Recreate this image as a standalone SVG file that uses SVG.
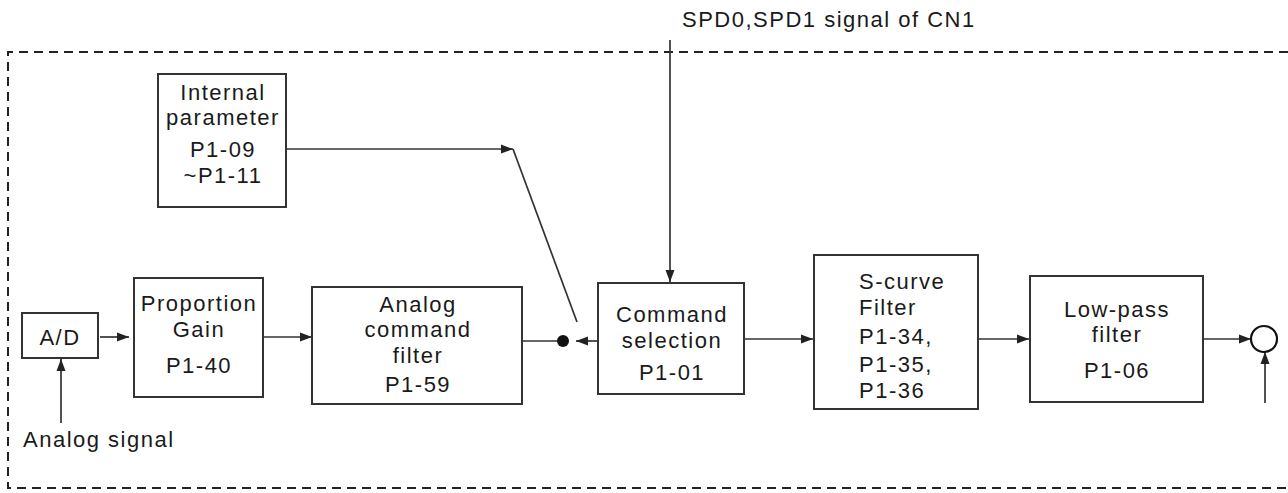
<svg xmlns="http://www.w3.org/2000/svg" width="1288" height="493" viewBox="0 0 1288 493">
<defs>
<style>
.t{font-family:"Liberation Sans",Arial,sans-serif;font-size:22px;fill:#1a1a1a;letter-spacing:1.5px}
.c{text-anchor:middle}
.box{fill:#fff;stroke:#333;stroke-width:2}
.ln{fill:none;stroke:#333;stroke-width:1.7}
.dash{fill:none;stroke:#222;stroke-width:2;stroke-dasharray:9 6}
</style>
<marker id="ah" viewBox="0 0 12 10" refX="12" refY="5" markerWidth="12" markerHeight="10" markerUnits="userSpaceOnUse" orient="auto">
<path d="M0,0.5 L12,5 L0,9.5 Z" fill="#222"/>
</marker>
</defs>
<rect width="1288" height="493" fill="#fff"/>
<g id="boundary">
<path class="dash" d="M1288,52 L8,52 L8,488 L1288,488"/>
</g>
<g id="connectors">
<line class="ln" x1="670" y1="40" x2="670" y2="282" marker-end="url(#ah)"/>
<line class="ln" x1="286" y1="149" x2="513" y2="149" marker-end="url(#ah)"/>
<line class="ln" x1="513" y1="149" x2="577" y2="322"/>
<line class="ln" x1="100" y1="337" x2="129" y2="337" marker-end="url(#ah)"/>
<line class="ln" x1="61" y1="423" x2="61" y2="359" marker-end="url(#ah)"/>
<line class="ln" x1="263" y1="337" x2="312" y2="337" marker-end="url(#ah)"/>
<line class="ln" x1="522" y1="341" x2="558" y2="341"/>
<circle cx="563" cy="341" r="6" fill="#111"/>
<line class="ln" x1="598" y1="341" x2="576" y2="341" marker-end="url(#ah)"/>
<line class="ln" x1="744" y1="339" x2="813" y2="339" marker-end="url(#ah)"/>
<line class="ln" x1="978" y1="339" x2="1029" y2="339" marker-end="url(#ah)"/>
<line class="ln" x1="1203" y1="339" x2="1251" y2="339" marker-end="url(#ah)"/>
<line class="ln" x1="1265" y1="403" x2="1265" y2="352" marker-end="url(#ah)"/>
</g>
<g id="spd-label"><text class="t" x="682" y="27">SPD0,SPD1 signal of CN1</text></g>
<g id="internal-parameter">
<rect class="box" x="158" y="74" width="128" height="133"/>
<text class="t c" x="223" y="100">Internal</text>
<text class="t c" x="223" y="125">parameter</text>
<text class="t c" x="223" y="157">P1-09</text>
<text class="t c" x="223" y="183">~P1-11</text>
</g>
<g id="ad">
<rect class="box" x="22" y="313" width="76" height="45"/>
<text class="t c" x="60" y="345">A/D</text>
</g>
<g id="analog-signal"><text class="t" x="23" y="447">Analog signal</text></g>
<g id="proportion-gain">
<rect class="box" x="134" y="278" width="129" height="119"/>
<text class="t c" x="199" y="311">Proportion</text>
<text class="t c" x="199" y="337">Gain</text>
<text class="t c" x="199" y="373">P1-40</text>
</g>
<g id="analog-command-filter">
<rect class="box" x="312" y="287" width="210" height="117"/>
<text class="t c" x="418" y="312">Analog</text>
<text class="t c" x="418" y="337">command</text>
<text class="t c" x="418" y="363">filter</text>
<text class="t c" x="418" y="392">P1-59</text>
</g>
<g id="command-selection">
<rect class="box" x="598" y="283" width="146" height="111"/>
<text class="t c" x="672" y="322">Command</text>
<text class="t c" x="672" y="348">selection</text>
<text class="t c" x="672" y="380">P1-01</text>
</g>
<g id="s-curve-filter">
<rect class="box" x="814" y="255" width="164" height="154"/>
<text class="t" x="859" y="289">S-curve</text>
<text class="t" x="859" y="315">Filter</text>
<text class="t" x="859" y="344">P1-34,</text>
<text class="t" x="859" y="372">P1-35,</text>
<text class="t" x="859" y="398">P1-36</text>
</g>
<g id="low-pass-filter">
<rect class="box" x="1030" y="276" width="173" height="126"/>
<text class="t c" x="1117" y="317">Low-pass</text>
<text class="t c" x="1117" y="342">filter</text>
<text class="t c" x="1117" y="378">P1-06</text>
</g>
<g id="summing-junction">
<circle cx="1264" cy="339" r="13" fill="#fff" stroke="#111" stroke-width="2.2"/>
</g>
</svg>
